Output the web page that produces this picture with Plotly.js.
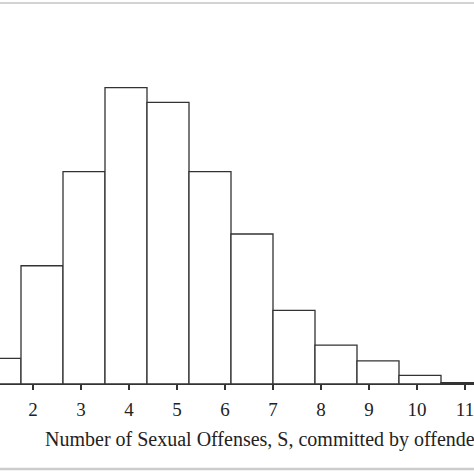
<!DOCTYPE html>
<html>
<head>
<meta charset="utf-8">
<script src="https://cdn.plot.ly/plotly-3.0.1.min.js"></script>
<style>
  html, body { margin: 0; padding: 0; background: #fff; }
  #chart { width: 474px; height: 474px; }
</style>
</head>
<body>
<div id="chart"></div>
<script>
    // Histogram of offenses per offender (bins of width 0.875)
    const binStarts = [0.875, 1.75, 2.625, 3.5, 4.375, 5.25, 6.125, 7.0, 7.875, 8.75, 9.625, 10.5];
    const binWidth = 0.875;
    const freqPct = [1.78, 8.20, 14.72, 20.55, 19.53, 14.72, 10.40, 5.10, 2.70, 1.60, 0.60, 0.10];
    const tickVals = [1, 2, 3, 4, 5, 6, 7, 8, 9, 10, 11, 12];
    const xTitle = 'Number of Sexual Offenses, S, committed by offenders';

    const INK = '#333333';
    const FONT = 'Liberation Serif, Times New Roman, serif';

    const traces = [{
        type: 'bar',
        x: binStarts,
        y: freqPct,
        width: binStarts.map(() => binWidth),
        offset: 0,
        marker: { color: '#ffffff', line: { color: INK, width: 1.3 } },
        hoverinfo: 'x+y'
    }];

    const layout = {
        width: 474,
        height: 474,
        margin: { t: 9, b: 90, l: 0, r: 0 },
        paper_bgcolor: '#ffffff',
        plot_bgcolor: '#ffffff',
        showlegend: false,
        bargap: 0,
        font: { family: FONT, color: '#222' },
        xaxis: {
            range: [1.3125, 11.1875],
            tickvals: tickVals,
            ticktext: tickVals.map(String),
            ticks: 'outside',
            ticklen: 5,
            tickwidth: 1.2,
            tickcolor: INK,
            tickfont: { family: FONT, size: 19, color: '#222' },
            ticklabeloverflow: 'allow',
            ticklabelstandoff: 3,
            showline: true,
            linecolor: INK,
            linewidth: 1.3,
            showgrid: false,
            zeroline: false
        },
        yaxis: {
            range: [0, 26],
            visible: false,
            showgrid: false,
            zeroline: false
        },
        annotations: [{
            text: xTitle,
            xref: 'paper', yref: 'paper',
            x: 43 / 474, y: -0.112,
            xanchor: 'left', yanchor: 'top',
            showarrow: false,
            font: { family: FONT, size: 20, color: '#222' }
        }],
        shapes: [
            { type: 'line', xref: 'paper', yref: 'paper', x0: 0, x1: 1, y0: 1.016, y1: 1.016,
              line: { color: '#c4c4c4', width: 1.5 } },
            { type: 'line', xref: 'paper', yref: 'paper', x0: 0, x1: 1, y0: -0.2267, y1: -0.2267,
              line: { color: '#cccccc', width: 2.5 } }
        ]
    };

    Plotly.newPlot('chart', traces, layout, { responsive: false, displayModeBar: false, staticPlot: true });
</script>
</body>
</html>
